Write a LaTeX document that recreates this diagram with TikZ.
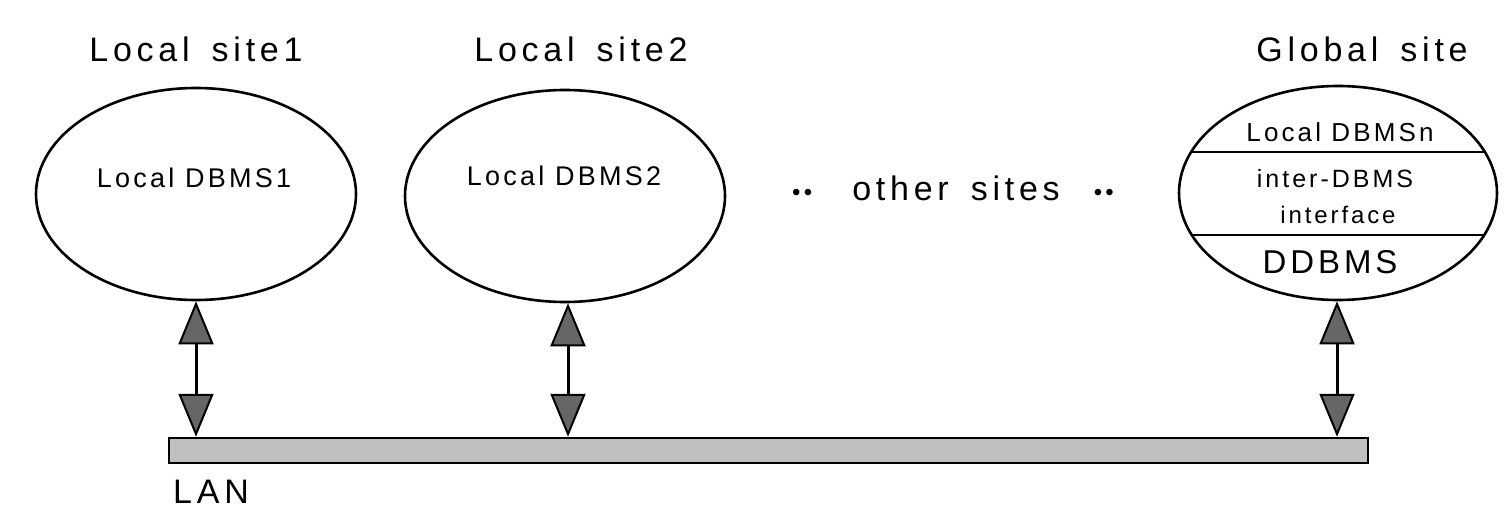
\documentclass[tikz,border=0pt]{standalone}
\usepackage{fontspec}
\setmainfont{Liberation Sans}
\newfontfamily\labelfont[LetterSpace=14]{Liberation Sans}
\newfontfamily\innerfont[LetterSpace=12]{Liberation Sans}
\usetikzlibrary{shapes.geometric,arrows.meta,calc}

\tikzset{
  site/.style={ellipse, draw=black, line width=2.6pt, inner sep=0pt,
    minimum width=320pt, minimum height=212pt},
  sitelabel/.style={anchor=base, inner sep=0pt, font=\labelfont\fontsize{34}{38}\selectfont},
  dbmstext/.style={anchor=base, inner sep=0pt, font=\innerfont\fontsize{27}{30}\selectfont},
  divider/.style={line width=2.4pt},
  link/.style={line width=3pt,
    {Triangle[width=35pt, length=43pt, fill=black!60, line width=2pt]}-{Triangle[width=35pt, length=43pt, fill=black!60, line width=2pt]}},
  lanbar/.style={draw=black, line width=2.5pt, fill=black!25, inner sep=0pt}
}

\begin{document}
\begin{tikzpicture}[x=1pt, y=-1pt]
  \useasboundingbox (0,0) rectangle (1512,508);

  % site titles
  \node[sitelabel] (t1) at (196,62) {Local\hspace{22pt}site1};
  \node[sitelabel] (t2) at (581,62) {Local\hspace{22pt}site2};
  \node[sitelabel] (t3) at (1362,62) {Global\hspace{22pt}site};

  % the three sites
  \node[site] (s1) at (196,194) {};
  \node[site] (s2) at (565,196) {};
  \node[site, minimum width=318pt, minimum height=214pt] (g) at (1338,193) {};

  \node[dbmstext] (d1) at (194,187) {Local DBMS1};
  \node[dbmstext] (d2) at (564,185) {Local DBMS2};

  % layers of the global site
  \begin{scope}
    \clip (1338,193) ellipse [x radius=159, y radius=107];
    \draw[divider] ($(g.center)+(-170,-41)$) -- ++(340,0);
    \draw[divider] ($(g.center)+(-170,42)$) -- ++(340,0);
  \end{scope}
  \node[dbmstext, font=\innerfont\fontsize{26}{29}\selectfont] (gl) at (1340,142) {Local DBMSn};
  \node[dbmstext, font=\innerfont\fontsize{25}{28}\selectfont] (gi) at (1335,187) {inter-DBMS};
  \node[dbmstext, font=\innerfont\fontsize{24}{27}\selectfont] (gf) at (1338,223) {interface};
  \node[dbmstext, font=\innerfont\fontsize{33}{36}\selectfont] (gd) at (1330,273) {DDBMS};

  % remaining sites
  \node[sitelabel] (other) at (953,200) {{\fontsize{24}{26}\selectfont ••}\hspace{40pt}other\hspace{22pt}sites\hspace{34pt}{\fontsize{24}{26}\selectfont ••}};

  % network
  \node[lanbar, minimum width=1199pt, minimum height=25pt] (lan) at (768.5,450.5) {};
  \node[sitelabel, anchor=base west] (lanlabel) at (173,503) {LAN};

  % connections to the network
  \draw[link] (s1.south) -- (s1.south |- lan.north);
  \draw[link] ([xshift=3pt]s2.south) -- ([xshift=3pt]s2.south |- lan.north);
  \draw[link] ([xshift=-1pt]g.south) -- ([xshift=-1pt]g.south |- lan.north);
\end{tikzpicture}
\end{document}
